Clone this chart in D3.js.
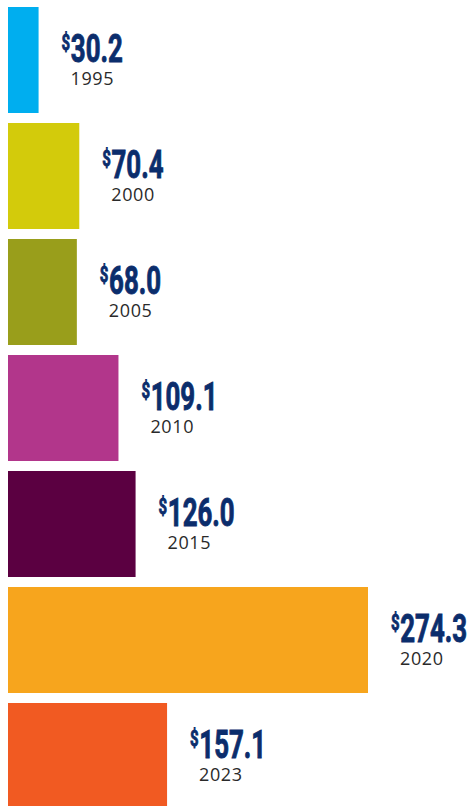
<!DOCTYPE html>
<html>
<head>
<meta charset="utf-8">
<script src="https://cdn.jsdelivr.net/npm/d3@7"></script>
<style>
  html, body { margin: 0; padding: 0; background: #ffffff; }
  svg { display: block; }
</style>
</head>
<body>
<svg id="chart" width="471" height="806"></svg>
<script>
const years  = ["1995", "2000", "2005", "2010", "2015", "2020", "2023"];
const values = [30.2, 70.4, 68.0, 109.1, 126.0, 274.3, 157.1];
const colors = ["#00aeef", "#d3cb0b", "#999e1b", "#b2368b", "#5b0041", "#f7a51d", "#f15a22"];

const svg = d3.select("#chart");
const left = 8;

const x = d3.scaleLinear().domain([0, 160, 274.3]).range([0, 162, 360]);
const y = d3.scaleBand().domain(years).range([7, 809]).paddingInner(0.0862).paddingOuter(0);

const rows = years.map((yr, i) => ({ year: yr, value: values[i], color: colors[i] }));

const g = svg.selectAll("g.row").data(rows).join("g").attr("class", "row");

g.append("rect")
  .attr("x", left)
  .attr("y", d => y(d.year))
  .attr("width", d => x(d.value))
  .attr("height", y.bandwidth())
  .attr("fill", d => d.color);

const val = g.append("text")
  .attr("transform", d => `translate(${left + x(d.value) + 23},${y(d.year) + 55}) scale(0.68,1)`)
  .attr("font-family", "Roboto, 'Liberation Sans', sans-serif")
  .attr("font-weight", 700)
  .attr("fill", "#0b2d6c")
  .attr("stroke", "#0b2d6c")
  .attr("stroke-width", 0.9);

val.append("tspan")
  .attr("font-size", 22)
  .attr("dy", -12)
  .text("$");
val.append("tspan")
  .attr("font-size", 38)
  .attr("dy", 12)
  .attr("dx", 1)
  .text(d => d.value.toFixed(1));

g.append("text")
  .attr("x", d => left + x(d.value) + 32)
  .attr("y", d => y(d.year) + 78)
  .attr("font-family", "'Open Sans', sans-serif")
  .attr("font-size", 18)
  .attr("letter-spacing", 0.6)
  .attr("fill", "#2a2a2a")
  .text(d => d.year);
</script>
</body>
</html>
